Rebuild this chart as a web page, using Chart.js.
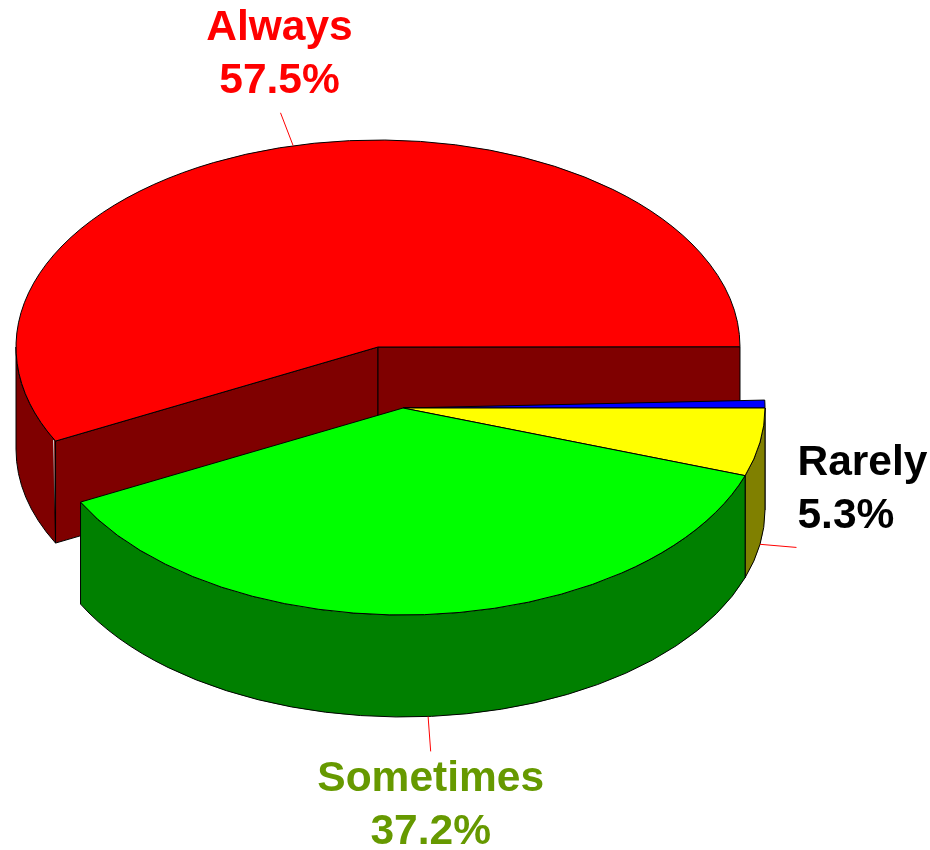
<!DOCTYPE html>
<html>
<head>
<meta charset="utf-8">
<style>
    html, body { margin: 0; padding: 0; background: #ffffff; }
    #wrap { position: relative; width: 930px; height: 850px; }
</style>
<script src="https://cdn.jsdelivr.net/npm/chart.js@4/dist/chart.umd.js"></script>
</head>
<body>
<div id="wrap"><canvas id="grafica"></canvas></div>
<script>
// Clockwise from 3 o'clock
const categorias = ['Rarely', 'Sometimes', 'Always', 'Never'];
const valores = [5.3, 37.2, 57.5, 0.02];
const coloresTapa = ['#ffff00', '#00ff00', '#ff0000', '#0000ff'];
const coloresPared = ['#808000', '#008000', '#7f0000', '#000080'];
const coloresTexto = ['#000000', '#669900', '#ff0000', null];

// Back to front
const ordenDibujo = ['Always', 'Never', 'Rarely', 'Sometimes'];

const ESCALA_Y = 207 / 362;
const PROFUNDIDAD = 102;
const CENTRO_Y = 347;
const BARRIDO_MINIMO = 2.2 * Math.PI / 180; // the blue sliver is drawn wider than its value
const LARGO_GUIA = 37;
const FUENTE = 'bold 42.5px "Liberation Sans", Arial, sans-serif';
const ALTO_LINEA = 53;

// Slice displacement
const despiece = { Rarely: [25, 61], Sometimes: [25, 61], Always: [0, 0], Never: [25, 61] };
// gx/gy nudge the leader end, dx/dy place the text from that end
const anclaTexto = {
    Rarely: { gx: 0, gy: -3, dx: 1, dy: -72, align: 'left' },
    Sometimes: { gx: 0, gy: -2, dx: 0, dy: 40, align: 'center' },
    Always: { gx: -4, gy: 3, dx: -1, dy: -73, align: 'center' }
};

function anguloInicio(arc) {
    return Math.min(arc.startAngle, arc.endAngle - BARRIDO_MINIMO);
}

function dibujarParedes(ctx, arc, cx, cy, rx, ry, color) {
    const a = anguloInicio(arc);
    const b = arc.endAngle;
    ctx.fillStyle = color;

    // radial faces that look at the viewer
    [a, b].forEach((ang, i) => {
        const visible = i === 0 ? Math.cos(ang) < 0 : Math.cos(ang) > 0;
        if (!visible) return;
        const x = cx + rx * Math.cos(ang);
        const y = cy + ry * Math.sin(ang);
        ctx.beginPath();
        ctx.moveTo(cx, cy);
        ctx.lineTo(x, y);
        ctx.lineTo(x, y + PROFUNDIDAD);
        ctx.lineTo(cx, cy + PROFUNDIDAD);
        ctx.closePath();
        ctx.fill();
        ctx.stroke();
    });

    // outer rim, only the front half shows
    const fin = Math.min(b, Math.PI);
    if (a < fin) {
        const ini = Math.max(a, 0);
        ctx.beginPath();
        ctx.ellipse(cx, cy, rx, ry, 0, ini, fin);
        ctx.ellipse(cx, cy + PROFUNDIDAD, rx, ry, 0, fin, ini, true);
        ctx.closePath();
        ctx.fill();
        ctx.stroke();
    }
}

// Pale glint down the corner where the rim meets the cut face
function dibujarBrillo(ctx, arc, cx, cy, rx, ry) {
    const x = cx + rx * Math.cos(arc.startAngle);
    const y = cy + ry * Math.sin(arc.startAngle);
    const brillo = ctx.createLinearGradient(0, y, 0, y + PROFUNDIDAD * 0.7);
    brillo.addColorStop(0, '#d8d8d8');
    brillo.addColorStop(1, '#000000');
    ctx.strokeStyle = brillo;
    ctx.beginPath();
    ctx.moveTo(x - 2, y - 1);
    ctx.lineTo(x, y + PROFUNDIDAD);
    ctx.stroke();
    ctx.strokeStyle = '#000000';
}

function dibujarTapa(ctx, arc, cx, cy, rx, ry, color) {
    ctx.fillStyle = color;
    ctx.beginPath();
    ctx.moveTo(cx, cy);
    ctx.ellipse(cx, cy, rx, ry, 0, anguloInicio(arc), arc.endAngle);
    ctx.closePath();
    ctx.fill();
    ctx.stroke();
}

function dibujarEtiqueta(ctx, arc, i, cx, cy, rx, ry) {
    const ancla = anclaTexto[categorias[i]];
    if (!ancla) return;
    const medio = (arc.startAngle + arc.endAngle) / 2;
    const frente = Math.sin(medio) > 0;
    const x0 = cx + rx * Math.cos(medio);
    const y0 = cy + ry * Math.sin(medio) + (frente ? PROFUNDIDAD : 0);
    const x1 = x0 + LARGO_GUIA * Math.cos(medio) + ancla.gx;
    const y1 = y0 + LARGO_GUIA * Math.sin(medio) + ancla.gy;

    ctx.strokeStyle = '#ff0000';
    ctx.lineWidth = 1;
    ctx.beginPath();
    ctx.moveTo(x0, y0);
    ctx.lineTo(x1, y1);
    ctx.stroke();

    ctx.fillStyle = coloresTexto[i];
    ctx.font = FUENTE;
    ctx.textAlign = ancla.align;
    ctx.textBaseline = 'alphabetic';
    ctx.fillText(categorias[i], x1 + ancla.dx, y1 + ancla.dy);
    ctx.fillText(valores[i].toFixed(1) + '%', x1 + ancla.dx, y1 + ancla.dy + ALTO_LINEA);
}

const pastel3d = {
    id: 'pastel3d',
    beforeDatasetsDraw(chart) {
        const ctx = chart.ctx;
        const arcos = chart.getDatasetMeta(0).data;

        const geometria = i => {
            const arc = arcos[i];
            const d = despiece[categorias[i]];
            return {
                cx: arc.x + d[0],
                cy: CENTRO_Y + d[1],
                rx: arc.outerRadius,
                ry: arc.outerRadius * ESCALA_Y
            };
        };

        ctx.save();
        ctx.strokeStyle = '#000000';
        ctx.lineWidth = 1;
        ordenDibujo.forEach(nombre => {
            const i = categorias.indexOf(nombre);
            const g = geometria(i);
            dibujarParedes(ctx, arcos[i], g.cx, g.cy, g.rx, g.ry, coloresPared[i]);
            if (nombre === 'Always') dibujarBrillo(ctx, arcos[i], g.cx, g.cy, g.rx, g.ry);
            dibujarTapa(ctx, arcos[i], g.cx, g.cy, g.rx, g.ry, coloresTapa[i]);
        });
        categorias.forEach((nombre, i) => {
            const g = geometria(i);
            dibujarEtiqueta(ctx, arcos[i], i, g.cx, g.cy, g.rx, g.ry);
        });
        ctx.restore();
        return false;
    }
};

new Chart(document.getElementById('grafica').getContext('2d'), {
    type: 'pie',
    data: {
        labels: categorias,
        datasets: [{
            data: valores,
            backgroundColor: coloresTapa,
            borderWidth: 0
        }]
    },
    options: {
        responsive: true,
        maintainAspectRatio: false,
        animation: false,
        rotation: 90,
        layout: { padding: { left: 16, right: 190, top: 60, bottom: 66 } },
        plugins: {
            legend: { display: false },
            title: { display: false },
            tooltip: { enabled: false }
        }
    },
    plugins: [pastel3d]
});
</script>
</body>
</html>
